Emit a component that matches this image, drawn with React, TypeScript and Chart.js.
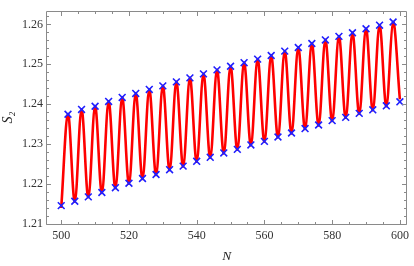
import React, { useEffect, useRef } from "react";
import { Chart, registerables } from "chart.js";

Chart.register(...registerables);

// ---- data ----
const nValues = [
  500, 502, 504, 506, 508, 510, 512, 514, 516, 518, 520, 522, 524, 526, 528, 530, 532,
  534, 536, 538, 540, 542, 544, 546, 548, 550, 552, 554, 556, 558, 560, 562, 564, 566,
  568, 570, 572, 574, 576, 578, 580, 582, 584, 586, 588, 590, 592, 594, 596, 598, 600,
];
const markerS2 = [
  1.2146, 1.2375, 1.2157, 1.2387, 1.2168, 1.2395, 1.2179, 1.2407, 1.2191, 1.2417,
  1.2202, 1.2427, 1.2214, 1.2437, 1.2224, 1.2446, 1.2236, 1.2456, 1.2245, 1.2466,
  1.2257, 1.2476, 1.2267, 1.2486, 1.2278, 1.2495, 1.2287, 1.2504, 1.2298, 1.2513,
  1.2307, 1.2522, 1.2318, 1.2533, 1.2328, 1.2542, 1.2339, 1.2552, 1.2348, 1.2561,
  1.2359, 1.257, 1.2367, 1.2579, 1.2377, 1.2589, 1.2386, 1.2598, 1.2396, 1.2606,
  1.2406,
];
const curveS2 = [
  1.214, 1.2375, 1.2156, 1.2387, 1.2167, 1.2395, 1.2178, 1.2407, 1.219, 1.2417,
  1.2201, 1.2427, 1.2213, 1.2437, 1.2223, 1.2446, 1.2235, 1.2456, 1.2244, 1.2466,
  1.2256, 1.2476, 1.2266, 1.2486, 1.2277, 1.2495, 1.2286, 1.2504, 1.2297, 1.2513,
  1.2306, 1.2522, 1.2317, 1.2533, 1.2327, 1.2542, 1.2338, 1.2552, 1.2347, 1.2561,
  1.2358, 1.257, 1.2366, 1.2579, 1.2376, 1.2589, 1.2385, 1.2598, 1.2395, 1.2606,
  1.2412,
];
const xTickLabels = [500, 520, 540, 560, 580, 600];
const yTickLabels = [1.21, 1.22, 1.23, 1.24, 1.25, 1.26];

// ---- styling ----
const X_MIN = 495.8;
const X_MAX = 602;
const Y_MIN = 1.21;
const Y_MAX = 1.2633;
const X_MINOR = 5;
const Y_MINOR = 0.002;
const FRAME_COLOR = "#8a8a8a";
const LABEL_COLOR = "#333333";
const SERIF = "'Liberation Serif', 'DejaVu Serif', serif";

const framePlugin = {
  id: "mmaFrame",
  afterDraw(chart: any) {
    const { ctx, chartArea } = chart;
    const xs = chart.scales.x;
    const ys = chart.scales.y;
    const L = Math.round(chartArea.left) - 0.5;
    const R = Math.round(chartArea.right) - 0.5;
    const T = Math.round(chartArea.top) + 0.5;
    const B = Math.round(chartArea.bottom) + 0.5;
    ctx.save();
    ctx.strokeStyle = FRAME_COLOR;
    ctx.lineWidth = 1;
    ctx.beginPath();
    ctx.rect(L, T, R - L, B - T);
    ctx.stroke();

    const major = 4.5;
    const minor = 2.5;
    ctx.beginPath();
    const xMajorSet = new Set(xTickLabels.map((v) => v.toFixed(3)));
    for (let v = Math.ceil(X_MIN / X_MINOR) * X_MINOR; v <= X_MAX + 1e-9; v += X_MINOR) {
      const px = Math.round(xs.getPixelForValue(v)) + 0.5;
      const len = xMajorSet.has(v.toFixed(3)) ? major : minor;
      ctx.moveTo(px, B);
      ctx.lineTo(px, B - len);
      ctx.moveTo(px, T);
      ctx.lineTo(px, T + len);
    }
    const yMajorSet = new Set(yTickLabels.map((v) => v.toFixed(4)));
    for (let k = 0; ; k++) {
      const v = Y_MIN + k * Y_MINOR;
      if (v > Y_MAX + 1e-9) break;
      const py = Math.round(ys.getPixelForValue(v)) + 0.5;
      const len = yMajorSet.has(v.toFixed(4)) ? major : minor;
      ctx.moveTo(L, py);
      ctx.lineTo(L + len, py);
      ctx.moveTo(R, py);
      ctx.lineTo(R - len, py);
    }
    ctx.stroke();
    ctx.restore();
  },
};

export default function App() {
  const canvasRef = useRef<HTMLCanvasElement | null>(null);

  useEffect(() => {
    const canvas = canvasRef.current;
    if (!canvas) return;
    const markerPoints = nValues.map((n, i) => ({ x: n, y: markerS2[i] }));
    const curvePoints = nValues.map((n, i) => ({ x: n, y: curveS2[i] }));

    const chart = new Chart(canvas, {
      type: "line",
      data: {
        datasets: [
          {
            label: "markers",
            data: markerPoints,
            showLine: false,
            pointStyle: "crossRot",
            pointRadius: 4.8,
            pointBorderWidth: 1.6,
            pointBorderColor: "#1f1fff",
            pointBackgroundColor: "#1f1fff",
            borderColor: "#1f1fff",
          },
          {
            label: "curve",
            data: curvePoints,
            borderColor: "#ff0000",
            borderWidth: 2.6,
            pointRadius: 0,
            tension: 0.36,
            fill: false,
          },
        ],
      },
      options: {
        responsive: false,
        animation: false,
        events: [],
        layout: { padding: { top: 0, right: 3, bottom: 0, left: 0 } },
        plugins: {
          legend: { display: false },
          tooltip: { enabled: false },
          title: { display: false },
        },
        scales: {
          x: {
            type: "linear",
            min: X_MIN,
            max: X_MAX,
            grid: { display: false, drawTicks: false },
            border: { display: false },
            afterBuildTicks: (s: any) => {
              s.ticks = xTickLabels.map((v) => ({ value: v }));
            },
            afterFit: (s: any) => {
              s.height = 42;
            },
            ticks: {
              padding: 5,
              maxRotation: 0,
              autoSkip: false,
              color: LABEL_COLOR,
              font: { family: SERIF, size: 12 },
              callback: (v: any) => String(v),
            },
            title: {
              display: true,
              text: "N",
              color: "#222222",
              padding: { top: 0, bottom: 1 },
              font: { family: SERIF, size: 13.5, style: "italic" },
            },
          },
          y: {
            type: "linear",
            min: Y_MIN,
            max: Y_MAX,
            grid: { display: false, drawTicks: false },
            border: { display: false },
            afterBuildTicks: (s: any) => {
              s.ticks = yTickLabels.map((v) => ({ value: v }));
            },
            afterFit: (s: any) => {
              s.width = 47;
            },
            ticks: {
              padding: 4,
              autoSkip: false,
              color: LABEL_COLOR,
              font: { family: SERIF, size: 12 },
              callback: (v: any) => Number(v).toFixed(2),
            },
            title: {
              display: true,
              text: "S₂",
              color: "#222222",
              padding: { top: 0, bottom: 0 },
              font: { family: SERIF, size: 14, style: "italic" },
            },
          },
        },
      },
      plugins: [framePlugin],
    });
    return () => chart.destroy();
  }, []);

  return (
    <div style={{ position: "fixed", left: 0, top: 0, width: 414, height: 266, background: "#fff" }}>
      <canvas ref={canvasRef} width={414} height={266} style={{ display: "block" }} />
    </div>
  );
}
